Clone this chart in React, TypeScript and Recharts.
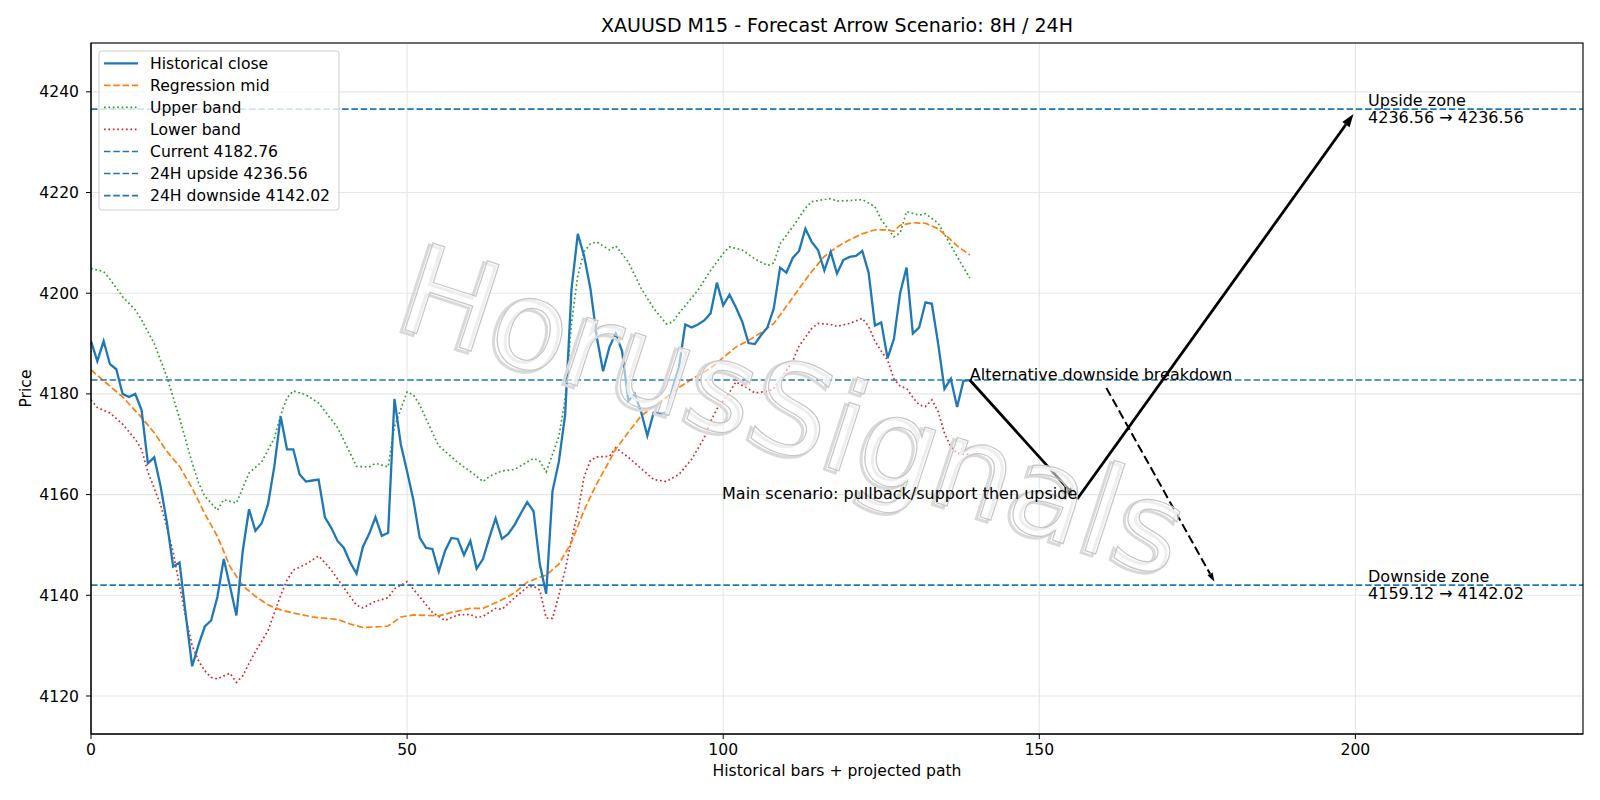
import {
  LineChart,
  Line,
  XAxis,
  YAxis,
  CartesianGrid,
  ReferenceLine,
  ReferenceDot,
} from "recharts";

// historical M15 closes, bar 0..139
const closeValues = [
  4190.5, 4186.5, 4190.5, 4185.9, 4184.9, 4180.0, 4179.4, 4180.0, 4176.8, 4166.2,
  4167.4, 4161.7, 4154.5, 4145.7, 4146.5, 4136.0, 4125.9, 4130.1, 4133.8, 4135.0,
  4139.7, 4147.2, 4141.7, 4136.0, 4148.8, 4157.1, 4152.8, 4154.3, 4158.1, 4165.6,
  4175.5, 4169.0, 4169.0, 4164.0, 4162.6, 4162.8, 4163.0, 4155.5, 4153.4, 4150.8,
  4149.4, 4146.5, 4144.3, 4149.6, 4152.2, 4155.5, 4151.8, 4152.4, 4179.0, 4170.0,
  4164.6, 4158.9, 4151.4, 4149.4, 4149.2, 4144.7, 4148.8, 4151.4, 4151.2, 4148.0,
  4150.8, 4145.3, 4147.2, 4151.4, 4155.3, 4151.2, 4152.2, 4154.0, 4156.3, 4158.5,
  4156.7, 4146.1, 4140.3, 4160.7, 4166.5, 4175.9, 4200.7, 4211.8, 4207.4, 4200.9,
  4191.3, 4184.5, 4189.3, 4192.0, 4188.5, 4178.6, 4180.0, 4176.5, 4171.7, 4176.3,
  4176.1, 4176.3, 4181.2, 4185.3, 4193.8, 4193.2, 4193.8, 4194.6, 4196.0, 4202.1,
  4197.6, 4199.7, 4197.2, 4194.4, 4190.1, 4189.9, 4191.7, 4193.2, 4197.0, 4205.1,
  4204.1, 4207.0, 4208.4, 4212.8, 4210.2, 4208.6, 4204.5, 4208.2, 4203.9, 4206.6,
  4207.2, 4207.4, 4208.4, 4204.1, 4193.6, 4194.2, 4187.1, 4190.9, 4200.1, 4205.1,
  4192.0, 4193.2, 4198.2, 4197.9, 4190.0, 4181.0, 4183.0, 4177.4, 4182.6, 4182.76,
];

// [bar, price]
const midPoints = [
  [0, 4184.8], [2, 4182.6], [5, 4179.4], [8, 4175.3], [10, 4172.3], [12, 4168.6],
  [14, 4165.6], [16, 4161.3], [18, 4156.2], [20, 4151.7], [22, 4145.7], [24, 4141.9],
  [26, 4139.8], [28, 4138.1], [30, 4137.1], [32, 4136.5], [35, 4135.7], [39, 4135.2],
  [41, 4134.3], [43, 4133.6], [46, 4133.8], [47, 4133.9], [49, 4135.7], [51, 4136.1],
  [55, 4135.9], [57, 4136.6], [60, 4137.4], [62, 4137.4], [65, 4139.1], [67, 4140.5],
  [69, 4142.6], [71, 4143.6], [72, 4144.0], [74, 4146.2], [76, 4150.5], [78, 4156.9],
  [80, 4162.2], [82, 4166.7], [83, 4169.0], [85, 4172.4], [87, 4175.6], [89, 4177.5],
  [91, 4179.3], [93, 4181.3], [95, 4182.9], [98, 4185.1], [100, 4187.2], [102, 4189.3],
  [104, 4190.6], [106, 4192.2], [108, 4194.0], [110, 4197.4], [112, 4200.9], [114, 4204.3],
  [116, 4207.3], [118, 4209.2], [120, 4210.6], [122, 4211.8], [124, 4212.6], [126, 4212.6],
  [127, 4212.3], [128, 4213.5], [130, 4214.0], [132, 4213.9], [134, 4212.8], [136, 4210.6],
  [137, 4209.4], [139, 4207.6],
];

const upperPoints = [
  [0, 4204.9], [2, 4204.3], [3, 4202.8], [5, 4199.3], [7, 4196.7], [8, 4194.7],
  [10, 4190.0], [12, 4183.4], [14, 4175.2], [16, 4166.3], [17, 4162.4], [18, 4159.7],
  [20, 4156.9], [21, 4159.0], [23, 4158.3], [25, 4164.3], [27, 4166.5], [29, 4171.2],
  [30, 4175.8], [31, 4179.2], [32, 4180.6], [34, 4179.8], [36, 4178.2], [39, 4173.3],
  [41, 4168.2], [42, 4165.6], [44, 4165.5], [45, 4166.2], [47, 4165.5], [48, 4173.5],
  [50, 4180.4], [51, 4179.8], [52, 4177.8], [54, 4172.3], [55, 4169.7], [58, 4166.4],
  [60, 4164.6], [62, 4162.6], [63, 4163.6], [65, 4164.7], [67, 4165.0], [70, 4167.2],
  [71, 4166.6], [72, 4164.5], [73, 4168.0], [74, 4171.5], [75, 4179.0], [76, 4194.0],
  [77, 4203.5], [78, 4208.3], [79, 4209.8], [80, 4210.2], [82, 4208.6], [83, 4209.4],
  [85, 4206.2], [87, 4201.0], [89, 4197.0], [91, 4193.9], [92, 4194.3], [93, 4196.0],
  [96, 4200.6], [98, 4204.5], [100, 4207.9], [101, 4209.2], [103, 4208.6], [105, 4206.8],
  [107, 4205.5], [108, 4206.0], [109, 4209.8], [111, 4213.2], [113, 4216.9], [114, 4218.2],
  [117, 4218.8], [118, 4218.3], [120, 4218.4], [122, 4218.6], [124, 4217.2], [125, 4214.6],
  [127, 4211.2], [128, 4212.0], [129, 4216.2], [131, 4215.5], [132, 4215.8], [134, 4213.9],
  [136, 4209.5], [137, 4207.3], [139, 4203.0],
];

const lowerPoints = [
  [0, 4178.8], [1, 4177.3], [3, 4176.2], [5, 4174.0], [7, 4171.0], [8, 4169.0],
  [9, 4164.5], [11, 4158.0], [12, 4153.5], [13, 4148.5], [14, 4142.0], [15, 4135.5],
  [16, 4130.0], [17, 4127.0], [18, 4125.0], [19, 4123.7], [20, 4123.4], [21, 4124.0],
  [22, 4124.5], [23, 4122.7], [24, 4124.0], [25, 4126.5], [26, 4128.8], [28, 4133.0],
  [29, 4136.5], [30, 4140.0], [31, 4143.0], [32, 4145.0], [34, 4146.2], [36, 4147.8],
  [37, 4146.5], [38, 4145.0], [40, 4141.5], [42, 4138.0], [43, 4137.5], [45, 4138.8],
  [47, 4139.5], [48, 4141.3], [50, 4142.7], [52, 4139.7], [54, 4136.6], [56, 4135.0],
  [58, 4136.1], [60, 4136.2], [61, 4135.6], [62, 4135.8], [64, 4137.4], [65, 4137.2],
  [67, 4139.5], [69, 4141.6], [70, 4141.8], [71, 4141.0], [72, 4135.5], [73, 4135.4],
  [74, 4140.0], [75, 4145.0], [76, 4151.0], [77, 4156.5], [78, 4163.5], [79, 4166.8],
  [80, 4167.5], [82, 4167.6], [83, 4169.3], [85, 4167.4], [87, 4165.2], [89, 4163.0],
  [91, 4162.6], [93, 4164.0], [95, 4167.0], [97, 4171.3], [98, 4174.5], [99, 4177.0],
  [101, 4180.3], [102, 4182.4], [104, 4181.0], [105, 4180.2], [107, 4180.5], [108, 4181.1],
  [109, 4182.8], [111, 4186.5], [112, 4189.5], [114, 4193.0], [115, 4194.0], [117, 4193.8],
  [118, 4193.4], [120, 4194.0], [122, 4195.0], [123, 4193.4], [124, 4190.5], [125, 4188.5],
  [126, 4186.7], [127, 4183.0], [128, 4181.5], [129, 4181.1], [130, 4179.3], [131, 4177.8],
  [132, 4177.5], [133, 4178.8], [134, 4176.5], [135, 4172.2], [136, 4169.5], [137, 4168.2],
  [139, 4167.9],
];

const CURRENT = 4182.76;
const UPSIDE = 4236.56;
const DOWNSIDE = 4142.02;
const SUPPORT = 4159.12;

// scenario path: current -> pullback -> upside target
const mainPath = [
  [139, CURRENT],
  [156, SUPPORT],
  [199.7, 4235.6],
];
const altArrow = [
  [160.6, 4181.2],
  [177.7, 4142.7],
];

const X_TICKS = [0, 50, 100, 150, 200];
const Y_TICKS = [4120, 4140, 4160, 4180, 4200, 4220, 4240];
const X_DOMAIN = [0, 236];
const Y_DOMAIN = [4112.45, 4249.7];

const BLUE = "#1f77b4";
const ORANGE = "#ff7f0e";
const GREEN = "#2ca02c";
const RED = "#d62728";
const FONT = "DejaVu Sans";
const DASH = "6.5 2.8";
const DOT = "1.7 2.7";

const closeData = closeValues.map((y, x) => ({ x, y }));
const toData = (pts: number[][]) => pts.map(([x, y]) => ({ x, y }));

const legendItems = [
  { label: "Historical close", color: BLUE, dash: undefined, w: 2.3 },
  { label: "Regression mid", color: ORANGE, dash: DASH, w: 1.7 },
  { label: "Upper band", color: GREEN, dash: DOT, w: 1.7 },
  { label: "Lower band", color: RED, dash: DOT, w: 1.7 },
  { label: `Current ${CURRENT.toFixed(2)}`, color: BLUE, dash: DASH, w: 1.6 },
  { label: `24H upside ${UPSIDE.toFixed(2)}`, color: BLUE, dash: DASH, w: 1.6 },
  { label: `24H downside ${DOWNSIDE.toFixed(2)}`, color: BLUE, dash: DASH, w: 1.6 },
];

const arrowShape =
  (width: number, headLen: number, headW: number, dash?: string) =>
  (props: any) => {
    const { x1, y1, x2, y2 } = props;
    const len = Math.hypot(x2 - x1, y2 - y1) || 1;
    const ux = (x2 - x1) / len;
    const uy = (y2 - y1) / len;
    const bx = x2 - ux * headLen;
    const by = y2 - uy * headLen;
    const px = (-uy * headW) / 2;
    const py = (ux * headW) / 2;
    return (
      <g>
        <line x1={x1} y1={y1} x2={bx} y2={by} stroke="#000" strokeWidth={width} strokeDasharray={dash} />
        <polygon points={`${x2},${y2} ${bx + px},${by + py} ${bx - px},${by - py}`} fill="#000" />
      </g>
    );
  };

const textShape =
  (lines: string[], anchor: "start" | "end", offsets: number[]) =>
  (props: any) => (
    <text x={props.cx} y={props.cy} textAnchor={anchor} fontSize={16} fill="#000" fontFamily={FONT}>
      {lines.map((l, i) => (
        <tspan key={i} x={props.cx} y={props.cy + offsets[i]}>
          {l}
        </tspan>
      ))}
    </text>
  );

// watermark sits at a fixed spot of the canvas, not on a data point
const watermarkShape = () => (
  <g transform="rotate(18 781 452)" fontFamily={FONT} fontSize={125} textAnchor="middle">
    <text x={778} y={455} fill="none" stroke="#d9d9d9" strokeWidth={3}>
      HorusSignals
    </text>
    <text x={781} y={452} fill="#fff" fillOpacity={0.55} stroke="#c6c6c6" strokeWidth={1.2}>
      HorusSignals
    </text>
  </g>
);

const App = () => {
  return (
    <div
      style={{
        position: "absolute",
        left: 0,
        top: 0,
        width: 1600,
        height: 800,
        background: "#fff",
        fontFamily: FONT,
      }}
    >
      <LineChart width={1600} height={800} margin={{ top: 43, right: 17, bottom: 0, left: 0 }}>
        <CartesianGrid stroke="#e6e6e6" strokeWidth={1.1} />
        <XAxis
          type="number"
          dataKey="x"
          domain={X_DOMAIN}
          ticks={X_TICKS}
          allowDataOverflow
          height={66}
          tickSize={5}
          tickMargin={5}
          stroke="#000"
          tick={{ fill: "#000", fontSize: 15.6 }}
          label={{
            content: () => (
              <text x={837} y={776} textAnchor="middle" fontSize={15.6} fill="#000">
                Historical bars + projected path
              </text>
            ),
          }}
        />
        <YAxis
          type="number"
          domain={Y_DOMAIN}
          ticks={Y_TICKS}
          allowDataOverflow
          width={91}
          tickSize={5}
          tickMargin={7}
          stroke="#000"
          tick={{ fill: "#000", fontSize: 15.6 }}
          label={{
            content: () => (
              <text
                x={31}
                y={388.5}
                transform="rotate(-90 31 388.5)"
                textAnchor="middle"
                fontSize={15.6}
                fill="#000"
              >
                Price
              </text>
            ),
          }}
        />
        <Line data={toData(upperPoints)} dataKey="y" stroke={GREEN} strokeWidth={1.7} strokeDasharray={DOT} dot={false} isAnimationActive={false} />
        <Line data={toData(lowerPoints)} dataKey="y" stroke={RED} strokeWidth={1.7} strokeDasharray={DOT} dot={false} isAnimationActive={false} />
        <Line data={toData(midPoints)} dataKey="y" stroke={ORANGE} strokeWidth={1.7} strokeDasharray={DASH} dot={false} isAnimationActive={false} />
        <Line data={closeData} dataKey="y" stroke={BLUE} strokeWidth={2.3} dot={false} isAnimationActive={false} />
        <ReferenceLine y={CURRENT} stroke={BLUE} strokeWidth={1.6} strokeDasharray={DASH} />
        <ReferenceLine y={UPSIDE} stroke={BLUE} strokeWidth={1.6} strokeDasharray={DASH} />
        <ReferenceLine y={DOWNSIDE} stroke={BLUE} strokeWidth={1.6} strokeDasharray={DASH} />
        <ReferenceDot x={100} y={4180} shape={watermarkShape} />
        <ReferenceLine
          segment={[
            { x: mainPath[0][0], y: mainPath[0][1] },
            { x: mainPath[1][0], y: mainPath[1][1] },
          ]}
          shape={arrowShape(2.8, 13, 9)}
        />
        <ReferenceLine
          segment={[
            { x: mainPath[1][0], y: mainPath[1][1] },
            { x: mainPath[2][0], y: mainPath[2][1] },
          ]}
          shape={arrowShape(2.8, 13, 9)}
        />
        <ReferenceLine
          segment={[
            { x: altArrow[0][0], y: altArrow[0][1] },
            { x: altArrow[1][0], y: altArrow[1][1] },
          ]}
          shape={arrowShape(2, 9, 6, "9 4")}
        />
        <ReferenceDot
          x={139}
          y={CURRENT}
          shape={textShape(["Alternative downside breakdown"], "start", [0])}
        />
        <ReferenceDot
          x={156}
          y={SUPPORT}
          shape={textShape(["Main scenario: pullback/support then upside"], "end", [0])}
        />
        <ReferenceDot
          x={202}
          y={UPSIDE}
          shape={textShape(["Upside zone", `${UPSIDE.toFixed(2)} → ${UPSIDE.toFixed(2)}`], "start", [-3.5, 13.8])}
        />
        <ReferenceDot
          x={202}
          y={DOWNSIDE}
          shape={textShape(["Downside zone", `${SUPPORT.toFixed(2)} → ${DOWNSIDE.toFixed(2)}`], "start", [-3.5, 13.8])}
        />
      </LineChart>

      <svg
        width={1600}
        height={800}
        style={{ position: "absolute", left: 0, top: 0, pointerEvents: "none" }}
      >
        <rect x={91} y={43} width={1492} height={691} fill="none" stroke="#000" strokeWidth={1.1} />

        <text x={837} y={32} textAnchor="middle" fontSize={19} fill="#000" fontFamily={FONT}>
          XAUUSD M15 - Forecast Arrow Scenario: 8H / 24H
        </text>

        <g fontFamily={FONT}>
          <rect
            x={99}
            y={51}
            width={240}
            height={159}
            rx={3}
            fill="#fff"
            fillOpacity={0.8}
            stroke="#cccccc"
            strokeWidth={1}
          />
          {legendItems.map((item, i) => {
            const y = 63.3 + i * 22.05;
            return (
              <g key={item.label}>
                <line
                  x1={104}
                  x2={138}
                  y1={y}
                  y2={y}
                  stroke={item.color}
                  strokeWidth={item.w}
                  strokeDasharray={item.dash}
                />
                <text x={150} y={y + 5.6} fontSize={15.6} fill="#000">
                  {item.label}
                </text>
              </g>
            );
          })}
        </g>
      </svg>
    </div>
  );
};

export default App;
